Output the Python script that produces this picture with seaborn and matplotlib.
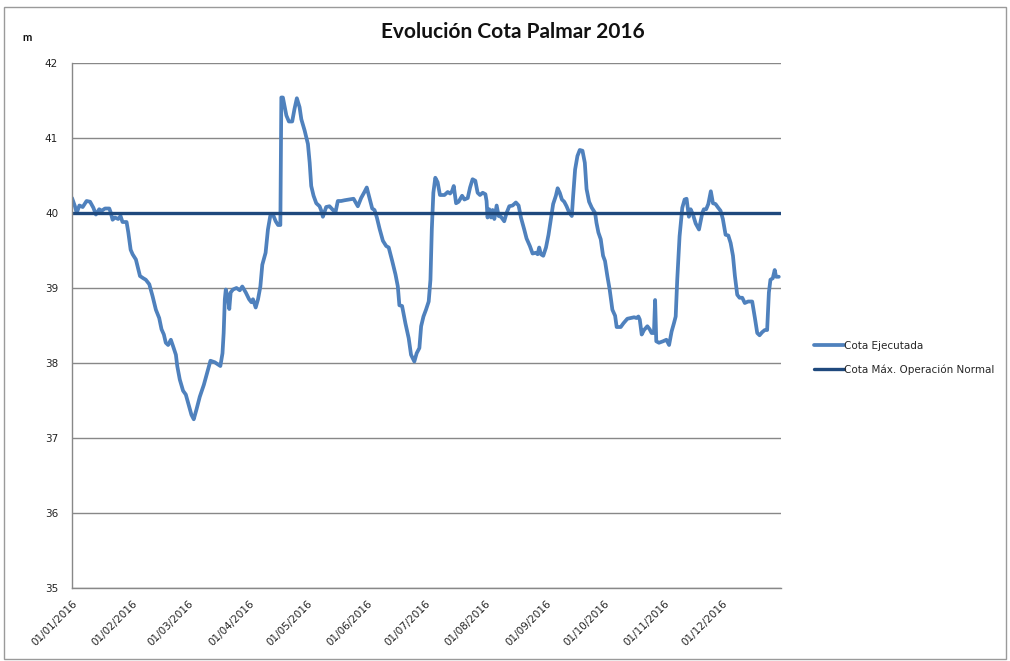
"""
Evolución Cota Palmar 2016 - cota ejecutada vs cota máxima de operación normal.
"""

import matplotlib
matplotlib.use("Agg")
import matplotlib.dates as mdates
import matplotlib.pyplot as plt
import pandas as pd
import seaborn as sns
from matplotlib.patches import Rectangle

# -- Datos (día del año desde 01/01/2016, cota en m) -------------------------
DAYS = [
    0, 1.5, 2.4, 3.8, 5.5, 7.5, 9.3, 11, 12.3, 14, 15.3, 17, 19.2, 19.9, 20.9,
    22.1, 23.8, 25, 26, 28.1, 29, 30.2, 31.2, 32.9, 35, 36.7, 38, 39.8, 41.5,
    43.2, 44.9, 46.1, 47.3, 48.3, 49.5, 50.9, 52.1, 53.5, 54.2, 55.5, 57.2,
    58.6, 60.3, 61.5, 62.7, 64.1, 65.8, 67.9, 69.6, 71.3, 73.5, 75.2, 76.4,
    77.5, 78.1, 78.7, 79.2, 80.4, 81, 81.7, 82.9, 84.7, 86.4, 87.7, 89.5,
    91.2, 92.4, 93.2, 94.6, 95.8, 97, 98, 99.7, 100.9, 102.1, 103.5, 104.9,
    106.1, 107.3, 107.8, 108.6, 110.4, 111.7, 113.4, 114.6, 115.8, 117.2,
    118.1, 119.8, 121.5, 122.4, 123.2, 124.4, 125.8, 127.5, 128.4, 129.2,
    130.9, 132.6, 134.4, 135.7, 136.9, 138.6, 140.4, 142.6, 145, 147.2,
    148.9, 150.6, 151.8, 153.2, 154.6, 155.8, 157, 158.4, 160.1, 161.8,
    163.1, 164.9, 166.6, 167.8, 168.6, 170, 171.7, 173.4, 174.6, 176.3,
    177.5, 178.9, 179.8, 181, 182.3, 183.7, 184.6, 185.3, 186.1, 187.1,
    188.3, 189.5, 191.8, 193.5, 194.7, 195.7, 196.6, 197.8, 199.1, 200.9,
    202.1, 203.8, 205, 206.3, 207.7, 208.9, 210.1, 211.5, 212.9, 213.5, 214,
    214.9, 215.8, 216.6, 217.5, 218.7, 219.7, 220.9, 222.6, 223.8, 225.2,
    226.9, 228.6, 230, 231.2, 232.9, 234.1, 235.8, 237.2, 238.9, 239.8,
    240.6, 241.5, 242.7, 244.1, 245.4, 246.6, 247.8, 249.2, 250.1, 251.2,
    252.3, 253.5, 254.7, 256, 257.4, 258.1, 259.1, 260.3, 261.5, 262.9,
    264.1, 265, 266.3, 267.7, 269.4, 270.1, 271.1, 272.3, 273.5, 274.5,
    275.7, 276.9, 278.3, 279.7, 280.5, 282.6, 284, 286, 287.7, 289.5, 290.7,
    291.7, 292.4, 293.4, 294.6, 296.3, 297.5, 298.5, 299.7, 300.3, 300.9,
    302.3, 304.4, 306.1, 307.5, 308.8, 310, 310.9, 311.7, 312.9, 314.3,
    315.5, 316.5, 317.7, 318.6, 319.8, 321.2, 322.9, 324.6, 325.4, 326.6,
    327.7, 329, 330.1, 331.4, 332.8, 334, 335.2, 336.6, 338, 339.2, 340.4,
    341.4, 342.6, 343.8, 345.2, 346.5, 348.2, 350.3, 351.7, 352.9, 354.1,
    355.4, 356.8, 358, 358.9, 359.7, 360.9, 361.9, 362.6, 364,
]
COTA = [
    40.20, 40.09, 40.00, 40.10, 40.08, 40.16, 40.15, 40.07, 39.98, 40.05,
    40.03, 40.06, 40.06, 40.01, 39.91, 39.94, 39.92, 39.96, 39.88, 39.88,
    39.74, 39.51, 39.45, 39.38, 39.16, 39.13, 39.11, 39.05, 38.89, 38.71,
    38.60, 38.45, 38.38, 38.27, 38.24, 38.31, 38.22, 38.11, 37.96, 37.78,
    37.63, 37.58, 37.42, 37.31, 37.25, 37.38, 37.55, 37.71, 37.87, 38.03,
    38.01, 37.98, 37.96, 38.13, 38.40, 38.85, 38.98, 38.85, 38.72, 38.94,
    38.98, 39.00, 38.97, 39.02, 38.94, 38.85, 38.81, 38.85, 38.74, 38.85,
    39.02, 39.31, 39.47, 39.78, 39.96, 39.98, 39.89, 39.84, 39.84, 41.54,
    41.54, 41.30, 41.22, 41.22, 41.39, 41.53, 41.41, 41.25, 41.10, 40.92,
    40.67, 40.36, 40.23, 40.13, 40.09, 40.03, 39.95, 40.08, 40.09, 40.04,
    40.01, 40.16, 40.16, 40.17, 40.18, 40.19, 40.09, 40.20, 40.28, 40.34,
    40.20, 40.06, 40.04, 39.94, 39.79, 39.63, 39.56, 39.54, 39.36, 39.18,
    39.02, 38.77, 38.76, 38.53, 38.33, 38.11, 38.02, 38.13, 38.20, 38.49,
    38.62, 38.71, 38.82, 39.11, 39.78, 40.27, 40.47, 40.41, 40.24, 40.24,
    40.28, 40.26, 40.29, 40.36, 40.13, 40.15, 40.23, 40.18, 40.20, 40.34,
    40.45, 40.43, 40.27, 40.24, 40.27, 40.25, 40.16, 39.94, 40.05, 39.94,
    40.04, 39.92, 40.10, 39.96, 39.95, 39.89, 40.00, 40.09, 40.10, 40.14,
    40.10, 39.94, 39.78, 39.66, 39.56, 39.46, 39.47, 39.45, 39.54, 39.45,
    39.43, 39.54, 39.71, 39.92, 40.12, 40.23, 40.33, 40.27, 40.18, 40.15,
    40.09, 40.01, 39.96, 40.23, 40.58, 40.76, 40.84, 40.83, 40.67, 40.32,
    40.15, 40.07, 40.00, 39.87, 39.74, 39.65, 39.43, 39.36, 39.16, 38.98,
    38.71, 38.63, 38.48, 38.48, 38.53, 38.59, 38.60, 38.61, 38.60, 38.62,
    38.58, 38.38, 38.44, 38.49, 38.45, 38.40, 38.40, 38.84, 38.29, 38.27,
    38.29, 38.31, 38.24, 38.42, 38.53, 38.62, 39.11, 39.69, 40.07, 40.18,
    40.19, 39.95, 40.05, 39.98, 39.86, 39.78, 40.00, 40.05, 40.05, 40.12,
    40.29, 40.13, 40.12, 40.07, 40.03, 39.92, 39.71, 39.70, 39.60, 39.43,
    39.16, 38.91, 38.87, 38.87, 38.80, 38.82, 38.82, 38.60, 38.40, 38.37,
    38.41, 38.44, 38.44, 38.94, 39.11, 39.13, 39.24, 39.15, 39.15,
]
COTA_MAX = 40.0
START = pd.Timestamp("2016-01-01")
END = pd.Timestamp("2016-12-31")

TITLE = "Evolución Cota Palmar 2016"
UNIT = "m"
LBL_EJEC = "Cota Ejecutada"
LBL_MAX = "Cota Máx. Operación Normal"
Y_TICKS = [35, 36, 37, 38, 39, 40, 41, 42]

# -- Figure ------------------------------------------------------------------
sns.set_theme(style="white")
plt.rcParams["font.family"] = ["DejaVu Sans"]

df = pd.DataFrame({
    "fecha": START + pd.to_timedelta(DAYS, unit="D"),
    "cota": COTA,
})
df_max = pd.DataFrame({"fecha": [START, END], "cota": [COTA_MAX, COTA_MAX]})

fig = plt.figure(figsize=(10.1, 6.61), dpi=100)
ax = fig.add_axes([0.0713, 0.1104, 0.7017, 0.7943])

sns.lineplot(data=df, x="fecha", y="cota", ax=ax, color="#4F81BD",
             linewidth=2.7, label=LBL_EJEC)
sns.lineplot(data=df_max, x="fecha", y="cota", ax=ax, color="#1F497D",
             linewidth=2.4, label=LBL_MAX)

ax.set_xlim(START, END)
ax.set_ylim(35, 42)
ax.set_yticks(Y_TICKS)
ax.yaxis.grid(True, color="#888888", linewidth=1)
ax.set_axisbelow(True)
ax.set_xlabel("")
ax.set_ylabel("")

ax.xaxis.set_major_locator(mdates.MonthLocator())
ax.xaxis.set_major_formatter(mdates.DateFormatter("%d/%m/%Y"))
for lbl in ax.get_xticklabels():
    lbl.set_rotation(45)
    lbl.set_ha("right")
    lbl.set_rotation_mode("anchor")

for side in ("top", "right"):
    ax.spines[side].set_visible(False)
for side in ("left", "bottom"):
    ax.spines[side].set_color("#888888")
    ax.spines[side].set_linewidth(1)
ax.tick_params(axis="both", which="major", direction="out", length=4,
               width=1, color="#888888", labelsize=7.5, labelcolor="#222222")
ax.tick_params(axis="y", pad=6)

ax.legend(loc="center left", bbox_to_anchor=(0.797, 0.459),
          bbox_transform=fig.transFigure, frameon=False, fontsize=7.5,
          handlelength=2.8, handletextpad=0.0, labelspacing=1.3)

fig.text(0.508, 0.951, TITLE, ha="center", va="center",
         fontsize=15, fontweight="bold", color="#111111",
         family=["Lato", "DejaVu Sans"])
fig.text(0.027, 0.944, UNIT, ha="center", va="center",
         fontsize=8, fontweight="bold", color="#111111",
         family=["Lato", "DejaVu Sans"])

fig.patches.append(Rectangle((0.004, 0.003), 0.992, 0.987,
                             transform=fig.transFigure, fill=False,
                             edgecolor="#9a9a9a", linewidth=1))

fig.savefig("out.png", dpi=100)
plt.close(fig)
